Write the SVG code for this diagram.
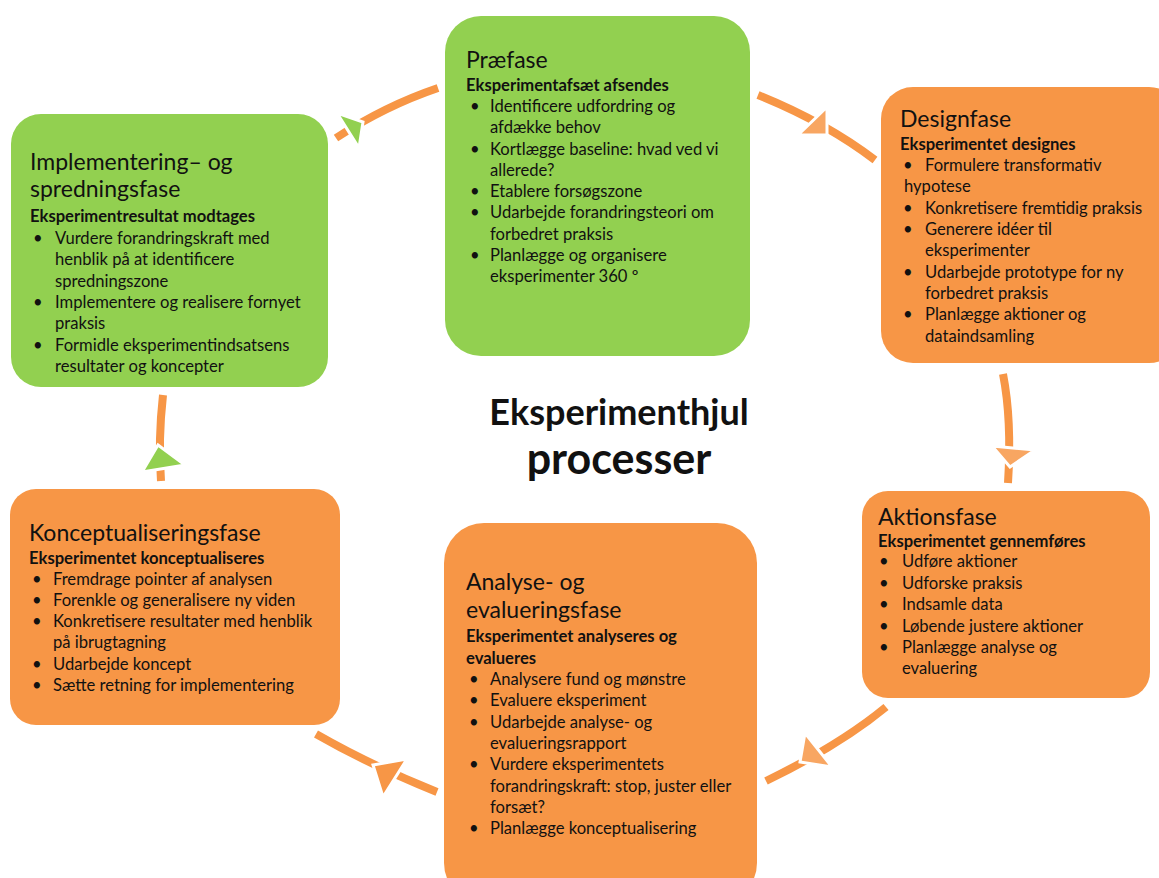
<svg xmlns="http://www.w3.org/2000/svg" width="1159" height="878" viewBox="0 0 1159 878">
<style>
.green{fill:#92D050}
.orange{fill:#F79646}
text{font-family:Lato,"Liberation Sans",sans-serif;fill:#111}
.t{font-size:23px}
.s{font-size:16.6px;font-weight:bold}
.b{font-size:16.6px}
.c{font-size:36px;font-weight:bold;text-anchor:middle}
.c2{font-size:43px}
.ln{fill:none;stroke:#F79646;stroke-width:8}
.ah{stroke:#fff;stroke-width:3;stroke-linejoin:miter}
</style>
<rect width="1159" height="878" fill="#fff"/>
<g id="connectors">
<path class="ln" d="M438,88 Q385,106 336,138"/>
<polygon class="ah" fill="#92D050" points="337,113 363,122 359,148"/>
<path class="ln" d="M758,95 Q825,122 875,160"/>
<polygon class="ah" fill="#F8A662" points="798,135 827,107 827,135"/>
<path class="ln" d="M1003,374 Q1012,420 1008,483"/>
<polygon class="ah" fill="#F8A662" points="992,446 1035,450 1010,467"/>
<path class="ln" d="M886,707 Q840,745 766,781"/>
<polygon class="ah" fill="#F8A662" points="805,733 832,767 800,762"/>
<path class="ln" d="M437,792 Q370,765 316,734"/>
<polygon class="ah" fill="#F79646" points="373,765 407,759 383,797"/>
<path class="ln" d="M163,395 Q158,440 161,481"/>
<polygon class="ah" fill="#92D050" points="158,445 185,465 142,472"/>
</g>
<g id="praefase">
<rect class="green" x="445" y="16" width="305" height="340" rx="36"/>
<text class="t" x="466" y="68">Præfase</text>
<text class="s" x="466" y="91">Eksperimentafsæt afsendes</text>
<text class="b"><tspan x="470" y="112">•</tspan><tspan x="490" y="112">Identificere udfordring og</tspan><tspan x="490" y="133">afdække behov</tspan><tspan x="470" y="155">•</tspan><tspan x="490" y="155">Kortlægge baseline: hvad ved vi</tspan><tspan x="490" y="176">allerede?</tspan><tspan x="470" y="197">•</tspan><tspan x="490" y="197">Etablere forsøgszone</tspan><tspan x="470" y="218">•</tspan><tspan x="490" y="218">Udarbejde forandringsteori om</tspan><tspan x="490" y="240">forbedret praksis</tspan><tspan x="470" y="261">•</tspan><tspan x="490" y="261">Planlægge og organisere</tspan><tspan x="490" y="282">eksperimenter 360 º</tspan></text>
</g>
<g id="designfase">
<rect class="orange" x="881" y="87" width="300" height="276" rx="32"/>
<text class="t" x="900" y="127">Designfase</text>
<text class="s" x="900" y="150">Eksperimentet designes</text>
<text class="b"><tspan x="903" y="171">•</tspan><tspan x="925" y="171">Formulere transformativ</tspan><tspan x="904" y="192">hypotese</tspan><tspan x="903" y="214">•</tspan><tspan x="925" y="214">Konkretisere fremtidig praksis</tspan><tspan x="903" y="235">•</tspan><tspan x="925" y="235">Generere idéer til</tspan><tspan x="925" y="256">eksperimenter</tspan><tspan x="903" y="278">•</tspan><tspan x="925" y="278">Udarbejde prototype for ny</tspan><tspan x="925" y="299">forbedret praksis</tspan><tspan x="903" y="320">•</tspan><tspan x="925" y="320">Planlægge aktioner og</tspan><tspan x="925" y="342">dataindsamling</tspan></text>
</g>
<g id="aktionsfase">
<rect class="orange" x="862" y="491" width="288" height="207" rx="26"/>
<text class="t" x="878" y="525">Aktionsfase</text>
<text class="s" x="878" y="547">Eksperimentet gennemføres</text>
<text class="b"><tspan x="879" y="567">•</tspan><tspan x="902" y="567">Udføre aktioner</tspan><tspan x="879" y="589">•</tspan><tspan x="902" y="589">Udforske praksis</tspan><tspan x="879" y="610">•</tspan><tspan x="902" y="610">Indsamle data</tspan><tspan x="879" y="632">•</tspan><tspan x="902" y="632">Løbende justere aktioner</tspan><tspan x="879" y="653">•</tspan><tspan x="902" y="653">Planlægge analyse og</tspan><tspan x="902" y="674">evaluering</tspan></text>
</g>
<g id="analysefase">
<rect class="orange" x="444" y="523" width="313" height="380" rx="40"/>
<text class="t"><tspan x="466" y="590">Analyse- og</tspan><tspan x="466" y="618">evalueringsfase</tspan></text>
<text class="s"><tspan x="466" y="642">Eksperimentet analyseres og</tspan><tspan x="466" y="664">evalueres</tspan></text>
<text class="b"><tspan x="469" y="685">•</tspan><tspan x="490" y="685">Analysere fund og mønstre</tspan><tspan x="469" y="706">•</tspan><tspan x="490" y="706">Evaluere eksperiment</tspan><tspan x="469" y="728">•</tspan><tspan x="490" y="728">Udarbejde analyse- og</tspan><tspan x="490" y="749">evalueringsrapport</tspan><tspan x="469" y="770">•</tspan><tspan x="490" y="770">Vurdere eksperimentets</tspan><tspan x="490" y="792">forandringskraft: stop, juster eller</tspan><tspan x="490" y="813">forsæt?</tspan><tspan x="469" y="834">•</tspan><tspan x="490" y="834">Planlægge konceptualisering</tspan></text>
</g>
<g id="konceptualiseringsfase">
<rect class="orange" x="10" y="489" width="330" height="236" rx="26"/>
<text class="t" x="29" y="541">Konceptualiseringsfase</text>
<text class="s" x="29" y="564">Eksperimentet konceptualiseres</text>
<text class="b"><tspan x="32" y="585">•</tspan><tspan x="53" y="585">Fremdrage pointer af analysen</tspan><tspan x="32" y="606">•</tspan><tspan x="53" y="606">Forenkle og generalisere ny viden</tspan><tspan x="32" y="627">•</tspan><tspan x="53" y="627">Konkretisere resultater med henblik</tspan><tspan x="53" y="648">på ibrugtagning</tspan><tspan x="32" y="670">•</tspan><tspan x="53" y="670">Udarbejde koncept</tspan><tspan x="32" y="691">•</tspan><tspan x="53" y="691">Sætte retning for implementering</tspan></text>
</g>
<g id="implementeringsfase">
<rect class="green" x="11" y="114" width="317" height="273" rx="30"/>
<text class="t"><tspan x="30" y="170">Implementering– og</tspan><tspan x="30" y="197">spredningsfase</tspan></text>
<text class="s" x="30" y="222">Eksperimentresultat modtages</text>
<text class="b"><tspan x="33" y="244">•</tspan><tspan x="55" y="244">Vurdere forandringskraft med</tspan><tspan x="55" y="265">henblik på at identificere</tspan><tspan x="55" y="287">spredningszone</tspan><tspan x="33" y="308">•</tspan><tspan x="55" y="308">Implementere og realisere fornyet</tspan><tspan x="55" y="329">praksis</tspan><tspan x="33" y="351">•</tspan><tspan x="55" y="351">Formidle eksperimentindsatsens</tspan><tspan x="55" y="372">resultater og koncepter</tspan></text>
</g>
<g id="center">
<text class="c" x="619" y="425">Eksperimenthjul</text>
<text class="c c2" x="619" y="474">processer</text>
</g>
</svg>
